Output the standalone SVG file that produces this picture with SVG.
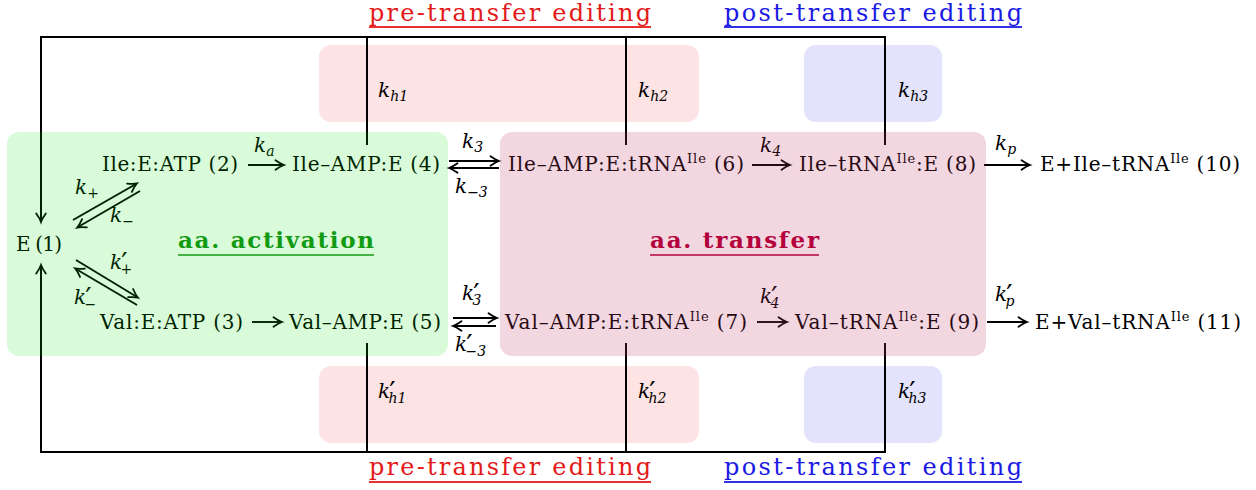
<svg xmlns="http://www.w3.org/2000/svg" width="1256" height="490" viewBox="0 0 1256 490">
<style>
.t{font-family:"DejaVu Serif","Liberation Serif",serif;font-size:20px;fill:#000}
.m{font-family:"DejaVu Serif","Liberation Serif",serif;font-style:italic;font-size:20px;fill:#000}
.s{font-size:14px}
.p{font-size:28px;font-style:normal}
.up{font-size:13px}
.ln{stroke:#000;stroke-width:2;fill:none}
.ar{stroke:#000;stroke-width:1.9;fill:none;marker-end:url(#ah)}
.hd{font-family:"DejaVu Serif","Liberation Serif",serif;font-size:24px}
.ti{font-family:"DejaVu Serif","Liberation Serif",serif;font-size:23px;font-weight:bold}
</style>
<defs>
<marker id="ah" viewBox="-10 -7 14 14" refX="0" refY="0" markerWidth="14" markerHeight="14" markerUnits="userSpaceOnUse" orient="auto" overflow="visible">
<path d="M-7.5,-4.8 Q-2.5,-1.2 1,0 Q-2.5,1.2 -7.5,4.8" fill="none" stroke="#000" stroke-width="1.8" stroke-linecap="round"/>
</marker>
</defs>
<g id="editing-boxes">
<rect x="319" y="45" width="380" height="77" rx="12" fill="#fde3e3"/>
<rect x="804" y="45" width="138" height="77" rx="12" fill="#e3e3fd"/>
<rect x="319" y="366" width="380" height="77" rx="12" fill="#fde3e3"/>
<rect x="804" y="366" width="138" height="77" rx="12" fill="#e3e3fd"/>
</g>
<g id="connectors">
<path class="ln" d="M885,145 V37 H41 V221" marker-end="url(#ah)"/>
<path class="ln" d="M367,37 V145 M626,37 V145"/>
<path class="ln" d="M885,343 V452 H41 V266" marker-end="url(#ah)"/>
<path class="ln" d="M367,452 V343 M626,452 V343"/>
<line class="ar" x1="73" y1="220" x2="136" y2="184"/>
<line class="ar" x1="140" y1="191" x2="78" y2="227"/>
<line class="ar" x1="76" y1="260" x2="137" y2="297"/>
<line class="ar" x1="137" y1="305" x2="76" y2="269"/>
<line class="ar" x1="248" y1="165" x2="283" y2="165"/>
<line class="ar" x1="449" y1="161" x2="498" y2="161"/>
<line class="ar" x1="499" y1="168" x2="450" y2="168"/>
<line class="ar" x1="752" y1="165" x2="789" y2="165"/>
<line class="ar" x1="984" y1="165" x2="1029" y2="165"/>
<line class="ar" x1="252" y1="322" x2="281" y2="322"/>
<line class="ar" x1="453" y1="318" x2="496" y2="318"/>
<line class="ar" x1="496" y1="326" x2="454" y2="326"/>
<line class="ar" x1="757" y1="322" x2="786" y2="322"/>
<line class="ar" x1="987" y1="322" x2="1026" y2="322"/>
</g>
<g id="rate-labels">
<text class="m" x="254" y="152">k<tspan class="s" dy="4">a</tspan></text>
<text class="m" x="75" y="194">k<tspan class="s" dy="4">+</tspan></text>
<text class="m" x="110" y="222">k<tspan class="s" dy="4">−</tspan></text>
<text class="m" x="110" y="269">k<tspan class="p" dx="-1" dy="4">′</tspan><tspan class="s" dx="-7" dy="1">+</tspan></text>
<text class="m" x="74" y="304">k<tspan class="p" dx="-1" dy="4">′</tspan><tspan class="s" dx="-7" dy="1">−</tspan></text>
<text class="m" x="462" y="148">k<tspan class="s" dy="4">3</tspan></text>
<text class="m" x="455" y="193">k<tspan class="s" dy="4">−3</tspan></text>
<text class="m" x="462" y="300">k<tspan class="p" dx="-1" dy="4">′</tspan><tspan class="s" dx="-7" dy="1">3</tspan></text>
<text class="m" x="455" y="351">k<tspan class="p" dx="-1" dy="4">′</tspan><tspan class="s" dx="-7" dy="1">−3</tspan></text>
<text class="m" x="760" y="152">k<tspan class="s" dy="4">4</tspan></text>
<text class="m" x="760" y="303">k<tspan class="p" dx="-1" dy="4">′</tspan><tspan class="s" dx="-7" dy="1">4</tspan></text>
<text class="m" x="995" y="150">k<tspan class="s" dy="4">p</tspan></text>
<text class="m" x="995" y="301">k<tspan class="p" dx="-1" dy="4">′</tspan><tspan class="s" dx="-7" dy="1">p</tspan></text>
<text class="m" x="378" y="97">k<tspan class="s" dy="4">h1</tspan></text>
<text class="m" x="638" y="97">k<tspan class="s" dy="4">h2</tspan></text>
<text class="m" x="898" y="97">k<tspan class="s" dy="4">h3</tspan></text>
<text class="m" x="378" y="398">k<tspan class="p" dx="-1" dy="4">′</tspan><tspan class="s" dx="-7" dy="1">h1</tspan></text>
<text class="m" x="638" y="398">k<tspan class="p" dx="-1" dy="4">′</tspan><tspan class="s" dx="-7" dy="1">h2</tspan></text>
<text class="m" x="898" y="398">k<tspan class="p" dx="-1" dy="4">′</tspan><tspan class="s" dx="-7" dy="1">h3</tspan></text>
</g>
<g id="n1"><text class="t" x="16" y="251" textLength="46" lengthAdjust="spacing">E (1)</text></g>
<g id="n2"><text class="t" x="102" y="171" textLength="136" lengthAdjust="spacing">Ile:E:ATP (2)</text></g>
<g id="n3"><text class="t" x="100" y="329" textLength="143" lengthAdjust="spacing">Val:E:ATP (3)</text></g>
<g id="n4"><text class="t" x="292" y="171" textLength="148" lengthAdjust="spacing">Ile–AMP:E (4)</text></g>
<g id="n5"><text class="t" x="289" y="329" textLength="152" lengthAdjust="spacing">Val–AMP:E (5)</text></g>
<g id="n6"><text class="t" x="508" y="171" textLength="236" lengthAdjust="spacing">Ile–AMP:E:tRNA<tspan class="up" dy="-8">Ile</tspan><tspan dy="8"> (6)</tspan></text></g>
<g id="n7"><text class="t" x="505" y="329" textLength="242" lengthAdjust="spacing">Val–AMP:E:tRNA<tspan class="up" dy="-8">Ile</tspan><tspan dy="8"> (7)</tspan></text></g>
<g id="n8"><text class="t" x="799" y="171" textLength="177" lengthAdjust="spacing">Ile–tRNA<tspan class="up" dy="-8">Ile</tspan><tspan dy="8">:E (8)</tspan></text></g>
<g id="n9"><text class="t" x="795" y="329" textLength="184" lengthAdjust="spacing">Val–tRNA<tspan class="up" dy="-8">Ile</tspan><tspan dy="8">:E (9)</tspan></text></g>
<g id="n10"><text class="t" x="1040" y="171" textLength="200" lengthAdjust="spacing">E+Ile–tRNA<tspan class="up" dy="-8">Ile</tspan><tspan dy="8"> (10)</tspan></text></g>
<g id="n11"><text class="t" x="1035" y="329" textLength="206" lengthAdjust="spacing">E+Val–tRNA<tspan class="up" dy="-8">Ile</tspan><tspan dy="8"> (11)</tspan></text></g>
<g id="stage-boxes">
<rect x="7" y="132" width="441" height="224" rx="12" fill="rgb(0,230,0)" fill-opacity="0.15"/>
<rect x="500" y="132" width="486" height="224" rx="12" fill="rgb(190,50,100)" fill-opacity="0.2"/>
</g>
<g id="titles">
<text class="ti" x="178" y="248" fill="#129a12" textLength="196" lengthAdjust="spacing">aa. activation</text>
<line x1="178" y1="255" x2="374" y2="255" stroke="#129a12" stroke-width="1.6"/>
<text class="ti" x="650" y="248" fill="#b4003c" textLength="169" lengthAdjust="spacing">aa. transfer</text>
<line x1="650" y1="255" x2="819" y2="255" stroke="#b4003c" stroke-width="1.6"/>
<text class="hd" x="369" y="21" fill="#e41a1a" textLength="282" lengthAdjust="spacing">pre-transfer editing</text>
<line x1="369" y1="27" x2="651" y2="27" stroke="#e83030" stroke-width="1.8"/>
<text class="hd" x="724" y="21" fill="#1a1ae4" textLength="298" lengthAdjust="spacing">post-transfer editing</text>
<line x1="724" y1="27" x2="1022" y2="27" stroke="#3030e8" stroke-width="1.8"/>
<text class="hd" x="369" y="475" fill="#e41a1a" textLength="282" lengthAdjust="spacing">pre-transfer editing</text>
<line x1="369" y1="482" x2="651" y2="482" stroke="#e83030" stroke-width="1.8"/>
<text class="hd" x="724" y="475" fill="#1a1ae4" textLength="298" lengthAdjust="spacing">post-transfer editing</text>
<line x1="724" y1="482" x2="1022" y2="482" stroke="#3030e8" stroke-width="1.8"/>
</g>
</svg>
